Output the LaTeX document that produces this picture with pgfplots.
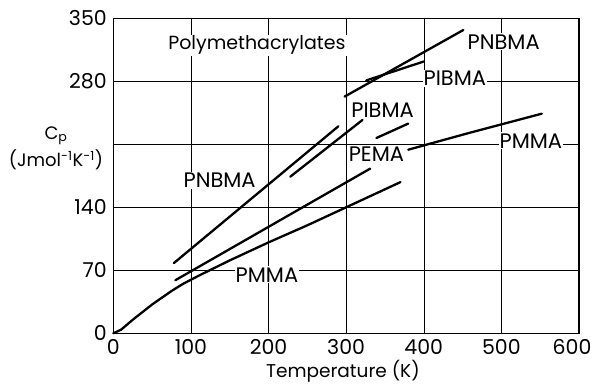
\documentclass[border=0pt]{standalone}
\usepackage{fontspec}
\setmainfont{Poppins}
\usepackage{pgfplots}
\pgfplotsset{compat=1.18}
\tikzset{lbl/.style={font=\fontsize{21}{22}\selectfont, fill=white, inner sep=1pt}}
\begin{document}
\begin{tikzpicture}
\useasboundingbox (-113.3pt,-52.7pt) rectangle (482.7pt,333.3pt);
\begin{axis}[
  scale only axis, width=465.7pt, height=315pt,
  xmin=0, xmax=600, ymin=0, ymax=350,
  xtick={0,100,200,300,400,500,600},
  ytick={0,70,140,210,280,350},
  yticklabels={0,70,140,,280,350},
  xticklabels={0,100,200,300,400,500,{\hspace*{-14pt}600}},
  grid=major, major grid style={black, line width=0.5pt},
  tick style={draw=none},
  axis line style={line width=1.3pt},
  clip=false,
  ticklabel style={font=\fontsize{20.5}{21}\selectfont},
  xticklabel style={yshift=-3pt},
  yticklabel style={xshift=-3pt},
  /pgf/number format/assume math mode=true,
  xlabel={Temperature (K)},
  xlabel style={font=\fontsize{18.5}{19}\selectfont, at={(axis description cs:0.493,-0.121)}, anchor=center},
  ylabel={C\textsubscript{p}\\[4pt](Jmol\textsuperscript{-1}K\textsuperscript{-1})},
  ylabel style={font=\fontsize{18}{19}\selectfont, rotate=-90, align=center, at={(axis description cs:-0.123,0.587)}, anchor=center},
  every axis plot post/.style={black, line width=2.3pt, line cap=round, solid},
  no markers,
]
% PMMA low
\addplot coordinates {(0,0) (10,4) (25,15) (50,32) (75,47) (90,55) (110,64) (150,81) (200,101) (250,120) (300,140) (370,168)};
% PNBMA low
\addplot coordinates {(78,78) (290,230)};
% PEMA low
\addplot coordinates {(80,59) (331,183)};
% PIBMA low
\addplot coordinates {(228,174) (321,237)};
% PEMA high
\addplot coordinates {(339,217) (380,233)};
% PMMA high
\addplot coordinates {(380,204) (460,223) (552,244)};
% PNBMA high
\addplot coordinates {(298,263) (451,337)};
% PIBMA high
\addplot coordinates {(326,281) (400,302)};
\node[lbl, font=\fontsize{19}{20}\selectfont] at (axis cs:185,320) {Polymethacrylates};
\node[lbl] at (axis cs:503,324) {PNBMA};
\node[lbl] at (axis cs:440,283) {PIBMA};
\node[lbl] at (axis cs:347,248) {PIBMA};
\node[lbl] at (axis cs:339,199) {PEMA};
\node[lbl] at (axis cs:538,214) {PMMA};
\node[lbl] at (axis cs:137,170) {PNBMA};
\node[lbl] at (axis cs:198,65) {PMMA};
\end{axis}
\end{tikzpicture}
\end{document}
